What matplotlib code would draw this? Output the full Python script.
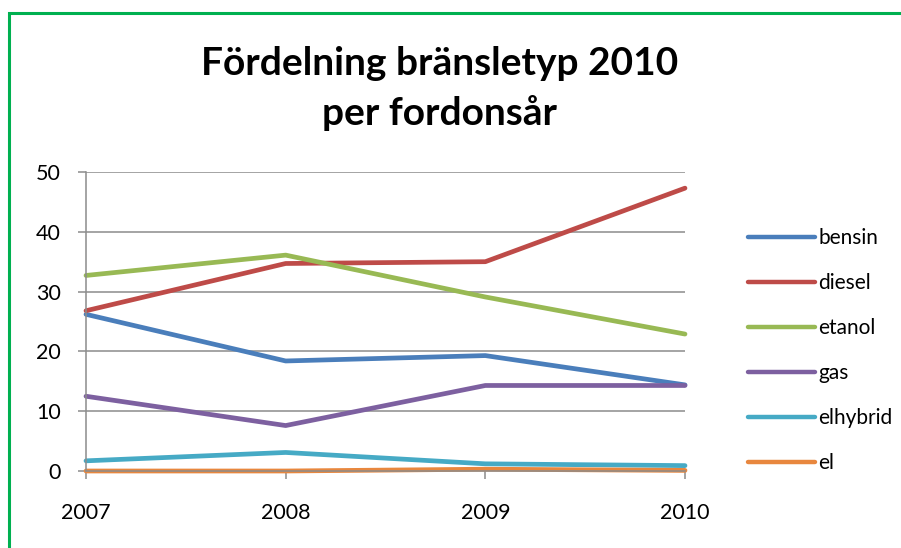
import matplotlib
matplotlib.use("Agg")
import matplotlib.pyplot as plt
from matplotlib.lines import Line2D
from matplotlib.patches import Rectangle

plt.rcParams["font.family"] = ["Lato", "DejaVu Sans"]

years = [2007, 2008, 2009, 2010]
series_names = ["bensin", "diesel", "etanol", "gas", "elhybrid", "el"]
bensin = [26.2, 18.4, 19.3, 14.4]
diesel = [26.8, 34.7, 35.0, 47.3]
etanol = [32.7, 36.1, 29.1, 22.9]
gas = [12.5, 7.6, 14.3, 14.3]
elhybrid = [1.7, 3.1, 1.2, 0.9]
el = [0.0, 0.0, 0.3, 0.1]
yticks = [0, 10, 20, 30, 40, 50]
title_lines = ["Fördelning bränsletyp 2010", "per fordonsår"]

values = [bensin, diesel, etanol, gas, elhybrid, el]
colors = ["#4A7EBB", "#BE4B48", "#98B954", "#7D60A0", "#46AAC5", "#E8873E"]

W, H = 901, 548
fig = plt.figure(figsize=(W / 100, H / 100), dpi=100)

# green frame (runs off the right/bottom edge)
fig.patches.append(Rectangle((8.5 / W, -0.05), 1.0, 1 - 12.5 / H + 0.05,
                             transform=fig.transFigure, fill=False,
                             edgecolor="#00B050", linewidth=2.2, zorder=0))

ax = fig.add_axes([86 / W, 1 - 471 / H, (685 - 86) / W, (471 - 172) / H])
for name, vals, c in zip(series_names, values, colors):
    ax.plot(years, vals, color=c, lw=3.4, solid_joinstyle="round",
            solid_capstyle="round", label=name, clip_on=False)

ax.set_xlim(2007, 2010)
ax.set_ylim(0, 50)
ax.set_xticks(years)
ax.set_xticklabels([str(y) for y in years])
ax.set_yticks(yticks)
ax.yaxis.grid(True, color="#8C8C8C", lw=1.1)
ax.set_axisbelow(True)
for s in ["top", "right"]:
    ax.spines[s].set_visible(False)
for s in ["left", "bottom"]:
    ax.spines[s].set_color("#8C8C8C")
    ax.spines[s].set_linewidth(1.1)
ax.tick_params(axis="y", length=6, width=1.1, color="#8C8C8C", pad=12,
               labelsize=15.5, labelcolor="black")
ax.tick_params(axis="x", length=6, width=1.1, color="#8C8C8C", pad=17,
               labelsize=15.5, labelcolor="black")

for txt, base in zip(title_lines, [75, 125]):
    fig.text(440 / W, 1 - base / H, txt, ha="center", va="baseline",
             fontsize=28, fontweight="bold")

handles = [Line2D([], [], color=c, lw=3.2, solid_capstyle="round") for c in colors]
fig.legend(handles, series_names, loc="upper left",
           bbox_to_anchor=(740 / W, 1 - 220 / H), frameon=False,
           fontsize=15, handlelength=3.2, handletextpad=0.15,
           labelspacing=1.2, borderaxespad=0)

fig.savefig("out.png", dpi=100)
